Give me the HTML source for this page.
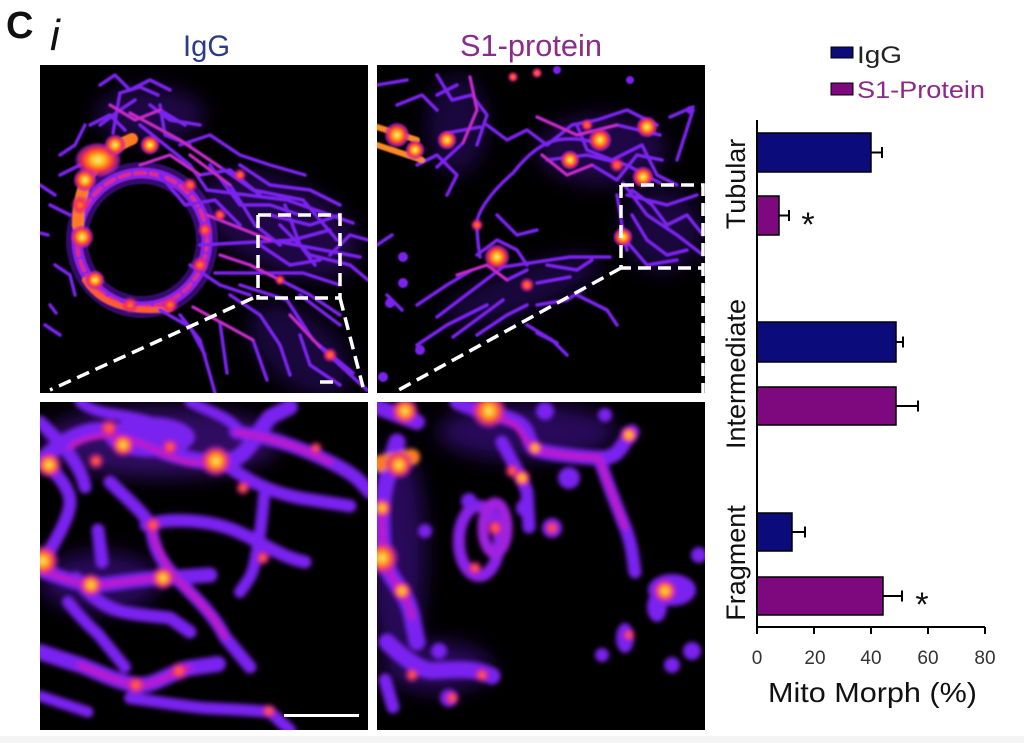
<!DOCTYPE html>
<html><head><meta charset="utf-8"><style>
html,body{margin:0;padding:0;background:#fff;}
svg{display:block;font-family:"Liberation Sans",Arial,sans-serif;}
</style></head><body>
<svg width="1024" height="743" viewBox="0 0 1024 743" xmlns="http://www.w3.org/2000/svg">
<defs>
<filter id="b1" x="-5%" y="-5%" width="110%" height="110%"><feGaussianBlur stdDeviation="0.8"/></filter>
<filter id="b2" x="-5%" y="-5%" width="110%" height="110%"><feGaussianBlur stdDeviation="2.4"/></filter>
<filter id="bh" x="-30%" y="-30%" width="160%" height="160%"><feGaussianBlur stdDeviation="10"/></filter>
<radialGradient id="hot"><stop offset="0" stop-color="#fff27a"/><stop offset="0.3" stop-color="#ffb020"/><stop offset="0.6" stop-color="#ff3a30"/><stop offset="0.85" stop-color="#c020c0" stop-opacity="0.7"/><stop offset="1" stop-color="#8020e0" stop-opacity="0"/></radialGradient>
<radialGradient id="warm"><stop offset="0" stop-color="#ff8a20"/><stop offset="0.45" stop-color="#ff2a50"/><stop offset="1" stop-color="#a020d0" stop-opacity="0"/></radialGradient>
<clipPath id="c"><rect width="328" height="328"/></clipPath>
</defs>
<rect width="1024" height="743" fill="#fff"/>
<rect y="736" width="1024" height="7" fill="#f4f4f4"/>

<!-- titles -->
<text x="6" y="38" font-size="38" font-weight="bold" fill="#111">C</text>
<text x="50" y="50" font-size="44" font-style="italic" fill="#111">i</text>
<text x="183" y="56" font-size="30" fill="#2c3a8c" textLength="47" lengthAdjust="spacingAndGlyphs">IgG</text>
<text x="460" y="56" font-size="31" fill="#8a2d8a" textLength="142" lengthAdjust="spacingAndGlyphs">S1-protein</text>

<!-- TOP LEFT panel -->
<g transform="translate(40,65)" clip-path="url(#c)">
<rect width="329" height="328" fill="#000"/>
<g filter="url(#bh)" stroke="none" opacity="0.35">
<ellipse cx="240" cy="160" rx="85" ry="45" transform="rotate(25 240 160)" fill="#5a18c8"/>
<ellipse cx="260" cy="285" rx="60" ry="35" transform="rotate(40 260 285)" fill="#4a14b0"/>
<ellipse cx="110" cy="50" rx="55" ry="28" fill="#5a18c8"/>
</g>
<g filter="url(#b1)" fill="none" stroke-linecap="round" stroke-linejoin="round">
<ellipse cx="102" cy="175" rx="65" ry="67" stroke="#6a1ad8" stroke-width="22" opacity="0.5"/>
<ellipse cx="102" cy="175" rx="65" ry="67" stroke="#8a22e8" stroke-width="11"/>
<ellipse cx="102" cy="175" rx="65" ry="67" stroke="#e02a8a" stroke-width="4" stroke-dasharray="10 6"/>
<path d="M38 160 C38 115,58 88,92 74" stroke="#ff7a20" stroke-width="12"/>
<path d="M45 215 C60 240,90 248,130 244" stroke="#ff5a30" stroke-width="6"/>
<g stroke="#7a20ee" stroke-width="3.5">
<path d="M80 28 L100 22 L118 30"/><path d="M80 28 L73 68"/>
<path d="M90 48 L140 75 L180 102 L213 125"/><path d="M100 60 L150 100 L167 125"/>
<path d="M167 125 L247 135 L313 158"/><path d="M213 125 L263 135 L297 175"/>
<path d="M167 150 L230 175 L320 192"/><path d="M160 180 L253 175 L290 165"/>
<path d="M175 208 L263 208 L300 220"/><path d="M153 242 L213 275 L227 315"/>
<path d="M200 220 L247 235 L273 275 L313 308"/><path d="M250 250 L280 282 L327 325"/>
<path d="M180 258 L187 308"/><path d="M120 245 L150 262 L165 290"/>
<path d="M140 80 L170 70 L200 90 L230 100 L265 110"/><path d="M150 90 L190 120 L215 160 L240 180"/>
<path d="M245 140 L260 180 L275 200"/><path d="M20 110 L40 100"/><path d="M10 140 L30 150"/>
<path d="M60 60 L80 45 L95 35"/><path d="M110 40 L130 55 L160 60"/>
<path d="M230 150 L270 160 L300 150"/><path d="M260 230 L300 260"/>
<path d="M60 20 L75 10 L90 25 L110 15 L130 25"/><path d="M70 40 L95 55 L120 45 L145 60"/>
<path d="M50 60 L70 50 L85 65"/><path d="M120 40 L125 70 L150 80"/>
<path d="M100 100 L130 90 L160 110 L190 105 L220 130"/><path d="M120 110 L145 140 L175 135 L200 160"/>
<path d="M170 100 L200 140 L230 140 L260 150"/><path d="M200 100 L230 120 L270 125 L300 140"/>
<path d="M240 160 L270 190 L310 200 L328 215"/><path d="M180 190 L210 200 L240 215 L270 230 L300 250"/>
<path d="M190 230 L220 250 L240 280 L250 310"/><path d="M260 270 L270 300 L300 320"/>
<path d="M140 250 L160 275 L170 310 L175 328"/><path d="M150 200 L180 220 L210 230"/>
<path d="M220 180 L250 200 L280 195"/><path d="M290 190 L310 170 L328 175"/>
<path d="M20 90 L35 80 L45 60"/><path d="M15 200 L30 210 L35 230"/><path d="M0 120 L15 130"/>
<path d="M5 260 L20 270"/><path d="M0 168 L8 170"/><path d="M10 240 L16 248"/>
</g>
<g stroke="#d02ab0" stroke-width="2.5">
<path d="M90 48 L140 75 L180 102"/><path d="M167 150 L230 175"/><path d="M153 242 L213 275"/><path d="M250 250 L280 282"/><path d="M150 90 L190 120"/>
<path d="M100 100 L130 90 L160 110"/><path d="M180 190 L210 200 L240 215"/><path d="M70 40 L95 55 L120 45"/>
</g>
<g stroke="none">
<ellipse cx="58" cy="95" rx="24" ry="18" fill="url(#hot)"/>
<circle cx="45" cy="115" r="12" fill="url(#hot)"/><circle cx="75" cy="80" r="11" fill="url(#hot)"/>
<circle cx="40" cy="140" r="10" fill="url(#warm)"/>
<circle cx="42" cy="172" r="12" fill="url(#hot)"/><circle cx="55" cy="215" r="10" fill="url(#hot)"/>
<circle cx="90" cy="240" r="9" fill="url(#warm)"/><circle cx="130" cy="240" r="9" fill="url(#warm)"/>
<circle cx="160" cy="200" r="9" fill="url(#warm)"/><circle cx="150" cy="120" r="8" fill="url(#warm)"/>
<circle cx="110" cy="80" r="10" fill="url(#hot)"/><circle cx="290" cy="290" r="8" fill="url(#warm)"/>
<circle cx="180" cy="150" r="7" fill="url(#warm)"/><circle cx="200" cy="110" r="7" fill="url(#warm)"/>
<circle cx="165" cy="165" r="8" fill="url(#warm)"/><circle cx="240" cy="215" r="6" fill="url(#warm)"/>
</g>
</g>
</g>

<!-- TOP RIGHT panel -->
<g transform="translate(377,65)" clip-path="url(#c)">
<rect width="328" height="328" fill="#000"/>
<g filter="url(#bh)" stroke="none" opacity="0.35">
<ellipse cx="225" cy="85" rx="65" ry="35" fill="#5a18c8"/>
<ellipse cx="80" cy="60" rx="30" ry="50" fill="#4a14b0"/>
<ellipse cx="145" cy="225" rx="85" ry="22" transform="rotate(-20 145 225)" fill="#4a14b0"/>
<ellipse cx="285" cy="165" rx="40" ry="42" fill="#4a14b0"/>
</g>
<g filter="url(#b1)" fill="none" stroke-linecap="round" stroke-linejoin="round">
<g stroke="#7a20ee" stroke-width="3.5">
<path d="M136 108 C110 130,100 150,100 158 C100 175,102 185,103 192"/>
<path d="M136 108 C150 90,165 78,180 75 C200 72,212 76,220 78"/>
<path d="M93 12 L100 45 L86 78 L60 102"/><path d="M70 68 L103 62"/>
<path d="M160 52 L200 70 L240 60 L283 70"/><path d="M170 95 L210 90 L250 100 L283 118"/>
<path d="M246 118 L270 150 L300 170 L326 190"/><path d="M250 130 L290 140 L320 130"/>
<path d="M246 172 L270 200 L300 195"/>
<path d="M60 252 L126 202 L193 192 L233 192"/><path d="M76 272 L126 235"/>
<path d="M160 218 L193 212"/><path d="M160 268 L180 278"/>
<path d="M293 52 L316 42"/><path d="M316 45 L300 95"/>
<path d="M40 240 L70 220 L95 205"/><path d="M120 150 L140 170 L160 165"/>
<path d="M200 230 L230 245 L240 260"/><path d="M60 30 L80 20"/>
<path d="M20 40 L45 30 L60 45"/><path d="M0 20 L30 15"/>
<path d="M60 10 L75 35 L95 30 L110 50 L100 80"/><path d="M40 100 L60 90 L80 110 L70 130"/>
<path d="M110 60 L130 75 L150 65 L170 80 L195 60 L220 55 L250 45 L280 60"/>
<path d="M165 90 L190 110 L215 100 L240 115 L260 90 L285 95"/>
<path d="M200 60 L210 85 L235 95 L265 80 L280 110 L300 120"/>
<path d="M255 125 L275 140 L290 160 L310 150 L326 170"/><path d="M255 150 L270 175 L290 190 L310 185"/>
<path d="M240 130 L245 160 L250 185"/><path d="M100 190 L120 175 L140 185 L150 200"/>
<path d="M80 210 L110 200 L130 215 L150 205"/><path d="M40 280 L70 260 L90 250 L110 240"/>
<path d="M100 270 L130 250 L150 240"/><path d="M170 200 L200 205 L215 195"/>
<path d="M160 240 L190 235 L205 225"/><path d="M150 260 L175 275 L190 290"/>
<path d="M0 180 L15 170"/><path d="M10 230 L25 245"/>
</g>
<g stroke="#d02ab0" stroke-width="2.5">
<path d="M160 52 L200 70 L240 60"/><path d="M165 90 L190 110 L215 100"/><path d="M80 210 L110 200 L130 215"/><path d="M93 12 L100 45 L86 78"/>
</g>
<g stroke="#ff8a20" stroke-width="6">
<path d="M0 62 L40 75"/><path d="M0 80 L45 95"/>
</g>
<g stroke="none">
<circle cx="20" cy="70" r="13" fill="url(#hot)"/><circle cx="38" cy="85" r="10" fill="url(#hot)"/>
<circle cx="70" cy="75" r="10" fill="url(#hot)"/>
<circle cx="223" cy="75" r="12" fill="url(#hot)"/><circle cx="270" cy="62" r="11" fill="url(#hot)"/>
<circle cx="266" cy="112" r="11" fill="url(#hot)"/><circle cx="193" cy="95" r="10" fill="url(#hot)"/>
<circle cx="246" cy="172" r="10" fill="url(#hot)"/><circle cx="120" cy="192" r="13" fill="url(#hot)"/>
<circle cx="100" cy="160" r="7" fill="url(#warm)"/><circle cx="150" cy="220" r="8" fill="url(#warm)"/>
<circle cx="136" cy="12" r="6" fill="url(#warm)"/><circle cx="160" cy="8" r="6" fill="url(#warm)"/>
<circle cx="240" cy="100" r="8" fill="url(#warm)"/><circle cx="210" cy="60" r="7" fill="url(#warm)"/>
<circle cx="26" cy="192" r="5" fill="#7a20ee"/><circle cx="26" cy="218" r="5" fill="#7a20ee"/>
<circle cx="13" cy="238" r="5" fill="#7a20ee"/><circle cx="43" cy="285" r="5" fill="#7a20ee"/>
<circle cx="6" cy="312" r="5" fill="#7a20ee"/><circle cx="253" cy="15" r="4" fill="#7a20ee"/>
<circle cx="313" cy="45" r="4" fill="#7a20ee"/><circle cx="180" cy="5" r="4" fill="#7a20ee"/>
</g>
</g>
</g>

<!-- BOTTOM LEFT panel -->
<g transform="translate(40,402)" clip-path="url(#c)">
<rect width="328" height="328" fill="#000"/>
<g filter="url(#bh)" stroke="none" opacity="0.45">
<ellipse cx="120" cy="40" rx="120" ry="35" fill="#6a1ad8"/>
<ellipse cx="60" cy="180" rx="60" ry="30" fill="#5a18c8"/>
</g>
<g filter="url(#b2)" fill="none" stroke-linecap="round" stroke-linejoin="round">
<ellipse cx="110" cy="35" rx="45" ry="20" fill="#7a20ee" stroke="none"/>
<g stroke="#7a22f0">
<path stroke-width="16" d="M0 60 C30 30,60 20,90 35 S150 60,178 60 S210 40,230 15 L250 5"/>
<path stroke-width="14" d="M196 30 C230 35,260 45,290 60 S320 80,330 90"/>
<path stroke-width="13" d="M185 62 C210 80,230 90,260 96 L310 104"/>
<path stroke-width="13" d="M0 55 C15 70,30 85,30 100 S15 140,0 165"/>
<path stroke-width="13" d="M70 80 C90 100,110 115,112 130 S120 160,140 180 S175 215,185 235 L210 265"/>
<path stroke-width="13" d="M106 123 C130 115,170 118,196 129 S240 155,265 160"/>
<path stroke-width="12" d="M224 94 C222 120,218 145,215 160 S208 178,200 190"/>
<path stroke-width="15" d="M0 168 C20 175,40 183,55 183 S100 176,125 176 L170 173"/>
<path stroke-width="13" d="M36 176 C50 195,65 205,80 209 S115 214,130 216 L150 230"/>
<path stroke-width="16" d="M0 250 C15 255,30 260,40 263 S80 282,98 283 S130 270,150 266 L178 262"/>
<path stroke-width="12" d="M28 200 C40 215,50 225,58 232 L85 265"/>
<path stroke-width="12" d="M90 296 C120 300,150 305,165 306 S210 308,230 310 L250 328"/>
<path stroke-width="11" d="M0 294 L48 310"/>
<path stroke-width="13" d="M0 20 C20 40,40 60,45 85"/>
<path stroke-width="13" d="M58 128 L62 160"/>
<path stroke-width="11" d="M40 0 C60 15,80 10,110 20"/>
<path stroke-width="11" d="M150 0 C170 10,190 15,200 30"/>
</g>
<g stroke="#c01ec8" stroke-width="6">
<path d="M30 45 C60 25,90 35,120 50 S160 60,178 60"/>
<path d="M0 168 C20 175,40 183,55 183 S100 176,125 176"/>
<path d="M40 263 S80 282,98 283 S130 270,150 266"/>
<path d="M196 30 C230 35,260 45,290 60"/>
<path d="M112 130 S120 160,140 180 S175 215,185 235"/>
</g>
<g stroke="none">
<circle cx="176" cy="59" r="16" fill="url(#hot)"/><circle cx="83" cy="43" r="12" fill="url(#hot)"/>
<circle cx="9" cy="63" r="13" fill="url(#hot)"/><circle cx="3" cy="159" r="16" fill="url(#hot)"/>
<circle cx="51" cy="183" r="12" fill="url(#hot)"/><circle cx="123" cy="176" r="12" fill="url(#hot)"/>
<circle cx="113" cy="123" r="9" fill="url(#warm)"/><circle cx="96" cy="283" r="10" fill="url(#warm)"/>
<circle cx="56" cy="59" r="9" fill="url(#warm)"/><circle cx="69" cy="26" r="10" fill="url(#warm)"/>
<circle cx="203" cy="86" r="8" fill="url(#warm)"/><circle cx="276" cy="46" r="7" fill="url(#warm)"/>
<circle cx="229" cy="309" r="8" fill="url(#warm)"/><circle cx="139" cy="269" r="10" fill="url(#warm)"/>
<circle cx="223" cy="156" r="8" fill="url(#warm)"/><circle cx="130" cy="45" r="9" fill="url(#warm)"/>
</g>
</g>
<rect x="244" y="312" width="75" height="3" fill="#fff"/>
</g>

<!-- BOTTOM RIGHT panel -->
<g transform="translate(377,402)" clip-path="url(#c)">
<rect width="328" height="328" fill="#000"/>
<g filter="url(#bh)" stroke="none" opacity="0.45">
<ellipse cx="20" cy="150" rx="28" ry="110" fill="#5a18c8"/>
<ellipse cx="150" cy="30" rx="90" ry="28" fill="#5a18c8"/>
<ellipse cx="60" cy="265" rx="55" ry="25" fill="#5a18c8"/>
</g>
<g filter="url(#b2)" fill="none" stroke-linecap="round" stroke-linejoin="round">
<g stroke="#7a22f0">
<path stroke-width="15" d="M80 0 C100 10,125 12,140 20 S150 45,160 48 S200 55,222 56 S245 40,255 30"/>
<path stroke-width="13" d="M125 40 C135 60,145 75,150 90 L152 125"/>
<path stroke-width="13" d="M222 56 C230 80,240 105,248 125 S256 160,258 170"/>
<path stroke-width="17" d="M20 40 C12 70,5 90,5 110 S5 150,10 165 S30 190,35 215 L40 240"/>
<path stroke-width="17" d="M10 240 C25 255,40 265,50 268 S90 262,115 274"/>
<path stroke-width="13" d="M8 278 L16 305"/>
<path stroke-width="16" d="M0 5 L40 20"/>
</g>
<g stroke="#c01ec8" stroke-width="6">
<path d="M100 10 C120 15,135 20,140 25 S150 45,160 48 S200 55,222 56"/>
<path d="M5 110 S5 150,10 165 S30 190,35 215"/>
<path d="M222 56 C230 80,240 105,248 125"/>
</g>
<path stroke="#ff7a20" stroke-width="16" d="M0 62 L35 55"/>
<ellipse cx="102" cy="139" rx="20" ry="35" stroke="#8a22e8" stroke-width="12"/>
<ellipse cx="118" cy="126" rx="12" ry="25" stroke="#a020e0" stroke-width="11"/>
<g stroke="none" fill="#7a22f0">
<circle cx="175" cy="126" r="10"/><circle cx="192" cy="76" r="11"/><circle cx="148" cy="106" r="9"/>
<circle cx="92" cy="99" r="8"/><circle cx="48" cy="129" r="7"/><circle cx="168" cy="9" r="9"/>
<circle cx="228" cy="13" r="7"/><circle cx="252" cy="33" r="9"/>
<ellipse cx="295" cy="188" rx="24" ry="16"/><ellipse cx="280" cy="205" rx="10" ry="15"/>
<circle cx="322" cy="153" r="8"/><ellipse cx="248" cy="236" rx="9" ry="15"/>
<circle cx="225" cy="253" r="7"/><circle cx="315" cy="249" r="9"/><circle cx="295" cy="263" r="8"/>
<circle cx="72" cy="296" r="9"/><circle cx="62" cy="249" r="8"/>
<circle cx="112" cy="9" r="18" fill="url(#hot)"/><circle cx="28" cy="9" r="14" fill="url(#hot)"/>
<circle cx="22" cy="63" r="14" fill="url(#hot)"/><circle cx="5" cy="156" r="17" fill="url(#hot)"/>
<circle cx="25" cy="189" r="10" fill="url(#hot)"/><circle cx="5" cy="106" r="10" fill="url(#hot)"/>
<circle cx="288" cy="189" r="12" fill="url(#hot)"/><circle cx="252" cy="33" r="9" fill="url(#hot)"/>
<circle cx="145" cy="76" r="9" fill="url(#hot)"/><circle cx="158" cy="46" r="8" fill="url(#hot)"/>
<circle cx="118" cy="126" r="9" fill="url(#warm)"/><circle cx="98" cy="166" r="8" fill="url(#warm)"/>
<circle cx="175" cy="126" r="8" fill="url(#warm)"/><circle cx="75" cy="296" r="8" fill="url(#warm)"/>
<circle cx="35" cy="273" r="8" fill="url(#warm)"/><circle cx="105" cy="273" r="8" fill="url(#warm)"/>
<circle cx="252" cy="233" r="7" fill="url(#warm)"/><circle cx="135" cy="69" r="8" fill="url(#warm)"/>
</g>
</g>
</g>

<!-- dashed zoom indicators -->
<g stroke="#fff" stroke-width="3.5" fill="none" stroke-dasharray="13 7">
<path d="M258 215 L340 215 L340 298"/>
<path d="M258 215 L258 298 L340 298"/>
<path d="M253 298 L50 390"/>
<path d="M340 298 L363 387"/>
<path d="M320 382 L337 382"/>
<path d="M621 185 L703 185 L703 393"/>
<path d="M621 185 L621 268 L703 268"/>
<path d="M621 268 L395 392"/>
</g>

<!-- CHART -->
<g stroke="#000" stroke-width="1.5">
<rect x="757" y="133" width="114" height="39" fill="#0b0b7c"/>
<rect x="757" y="196" width="22" height="39" fill="#7e087e"/>
<rect x="757" y="322" width="139" height="40" fill="#0b0b7c"/>
<rect x="757" y="387" width="139" height="38" fill="#7e087e"/>
<rect x="757" y="513" width="35" height="38" fill="#0b0b7c"/>
<rect x="757" y="577" width="126" height="38" fill="#7e087e"/>
</g>
<g stroke="#000" stroke-width="2" fill="none">
<path d="M871 152.5 H882 M882 147 V158"/>
<path d="M779 215.5 H789 M789 210 V221"/>
<path d="M896 342 H903 M903 336.5 V347.5"/>
<path d="M896 406 H918 M918 400.5 V411.5"/>
<path d="M792 532 H805 M805 526.5 V537.5"/>
<path d="M883 596 H902 M902 590.5 V601.5"/>
<path d="M757 120 V627 H985"/>
<path d="M757 627 V634 M814 627 V634 M871 627 V634 M928 627 V634 M985 627 V634"/>
</g>
<text x="808" y="236" font-size="34" text-anchor="middle" fill="#111">*</text>
<text x="922" y="616" font-size="34" text-anchor="middle" fill="#111">*</text>
<g font-size="19" fill="#333" text-anchor="middle">
<text x="757" y="664">0</text><text x="815" y="664">20</text><text x="871" y="664">40</text><text x="928" y="664">60</text><text x="985" y="664">80</text>
</g>
<text x="768" y="702" font-size="28" fill="#111" textLength="209" lengthAdjust="spacingAndGlyphs">Mito Morph (%)</text>
<g font-size="27" fill="#111" text-anchor="middle">
<text transform="translate(745,184) rotate(-90)">Tubular</text>
<text transform="translate(745,374) rotate(-90)">Intermediate</text>
<text transform="translate(745,563) rotate(-90)">Fragment</text>
</g>
<!-- legend -->
<rect x="831" y="47" width="22" height="11" fill="#0b0b7c" stroke="#000" stroke-width="1"/>
<rect x="831" y="83" width="22" height="12" fill="#7e087e" stroke="#000" stroke-width="1"/>
<text x="857" y="63" font-size="24" fill="#222" textLength="45" lengthAdjust="spacingAndGlyphs">IgG</text>
<text x="857" y="98" font-size="24" fill="#8b2a8b" textLength="128" lengthAdjust="spacingAndGlyphs">S1-Protein</text>
</svg>
</body></html>
